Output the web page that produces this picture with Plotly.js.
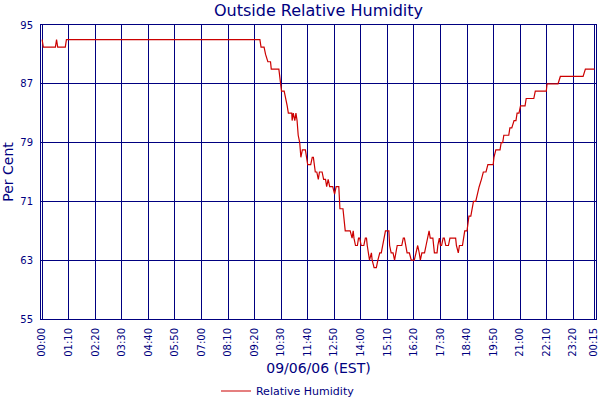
<!DOCTYPE html>
<html>
<head>
<meta charset="utf-8">
<script src="https://cdn.plot.ly/plotly-3.0.1.min.js"></script>
<style>html,body{margin:0;padding:0;background:#fff}#chart{width:600px;height:400px}</style>
</head>
<body>
<div id="chart"></div>
<script>
// minutes since 00:00 on 09/06/06
const minutes = [0,3,35,38,41,61,64,574,577,585,589,595,602,604,624,628,631,638,643,646,649,658,659,662,666,669,672,675,679,682,686,694,697,700,708,712,715,717,720,724,728,731,738,742,747,750,754,758,766,771,775,782,783,785,793,796,799,812,817,820,822,826,831,834,837,841,848,852,855,857,861,863,868,870,875,881,885,890,894,898,903,905,914,916,920,925,929,932,936,948,952,955,959,962,968,973,981,986,990,994,997,1001,1008,1012,1016,1020,1023,1030,1034,1041,1043,1047,1050,1053,1057,1060,1064,1071,1075,1090,1092,1097,1100,1108,1111,1114,1120,1122,1125,1130,1134,1137,1143,1147,1152,1158,1163,1170,1175,1189,1191,1196,1207,1210,1214,1217,1230,1233,1238,1244,1249,1252,1257,1261,1266,1273,1276,1296,1300,1329,1331,1360,1366,1426,1432,1456];
const humidity = [93,92,92,93,92,92,93,93,92,92,91,90,90,89,89,87,86,86,85,84,83,83,82,83,82,83,82,80,79,77,78,78,77,76,76,77,77,76,75,75,74,75,75,74,74,73,74,73,73,72,73,73,71,70,70,68,67,67,66,67,66,65,65,66,66,65,65,66,66,65,64,63,64,63,62,62,63,64,64,65,66,67,67,65,64,64,63,64,65,65,66,66,65,64,64,63,63,64,65,64,63,64,64,65,66,67,66,66,64,64,65,66,65,65,66,66,65,65,66,66,65,64,65,65,66,67,67,68,69,69,70,71,71,72,73,74,75,75,76,76,77,78,78,79,79,80,80,81,81,82,82,83,83,84,84,84,85,85,86,86,87,87,88,88,89,89];
const tickMinutes = [0,70,140,210,280,350,420,490,560,630,700,770,840,910,980,1050,1120,1190,1260,1330,1400,1455];
const tickLabels = ["00:00","01:10","02:20","03:30","04:40","05:50","07:00","08:10","09:20","10:30","11:40","12:50","14:00","15:10","16:20","17:30","18:40","19:50","21:00","22:10","23:20","00:15"];
const yTicks = [55,63,71,79,87,95];

const navy = "#000080";
const trace = {
  x: minutes, y: humidity, type: "scatter", mode: "lines",
  name: "Relative Humidity",
  line: {color: "#cc0000", width: 1.2}
};
const layout = {
  width: 600, height: 400, autosize: false,
  margin: {l: 41, r: 4, t: 25, b: 81, pad: 0},
  paper_bgcolor: "#ffffff", plot_bgcolor: "#ffffff",
  font: {family: "DejaVu Sans", color: navy, size: 10},
  title: {text: "Outside Relative Humidity", font: {size: 16, color: navy},
          x: 0.5, xref: "paper", y: 0.975, yref: "container", yanchor: "middle"},
  showlegend: true,
  legend: {orientation: "h", x: 0.445, xanchor: "center", xref: "paper",
           y: 0.0225, yref: "container", yanchor: "middle",
           font: {size: 11, color: navy}, bgcolor: "rgba(0,0,0,0)"},
  xaxis: {
    range: [-3, 1460], tickmode: "array", tickvals: tickMinutes, ticktext: tickLabels,
    tickangle: -90, tickfont: {size: 10, color: navy}, ticklabeloverflow: "allow",
    ticks: "outside", ticklen: 4, tickcolor: "rgba(0,0,0,0)",
    showgrid: true, gridcolor: navy, gridwidth: 1, zeroline: false,
    showline: true, linecolor: navy, linewidth: 1, mirror: true,
    title: {text: "09/06/06 (EST)", font: {size: 14, color: navy}, standoff: 7},
    automargin: false
  },
  yaxis: {
    range: [55, 95], tickmode: "array", tickvals: yTicks,
    tickfont: {size: 10, color: navy},
    ticks: "outside", ticklen: 5, tickcolor: "rgba(0,0,0,0)",
    showgrid: true, gridcolor: navy, gridwidth: 1, zeroline: false,
    showline: true, linecolor: navy, linewidth: 1, mirror: true,
    title: {text: "Per Cent", font: {size: 14, color: navy}, standoff: 6},
    automargin: false
  }
};
Plotly.newPlot("chart", [trace], layout, {displayModeBar: false, staticPlot: true});
</script>
</body>
</html>
